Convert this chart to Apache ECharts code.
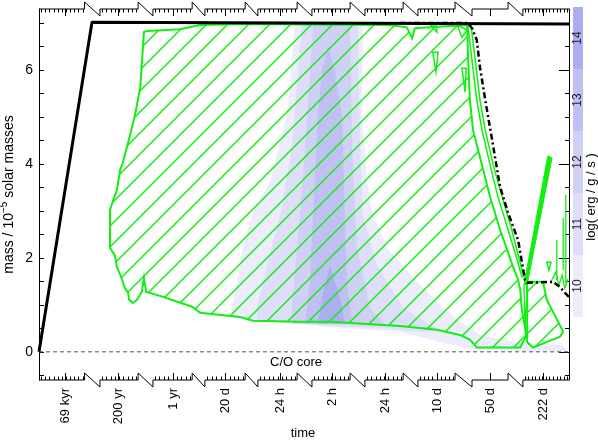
<!DOCTYPE html>
<html>
<head>
<meta charset="utf-8">
<script src="https://cdn.jsdelivr.net/npm/echarts@6/dist/echarts.min.js"></script>
<style>
  html, body { margin: 0; padding: 0; background: #fff; }
  #chart { width: 598px; height: 441px; }
</style>
</head>
<body>
<div id="chart"></div>
<script>
// x runs 0..10 across the broken time axis, one unit per segment (+ break)
const segStart = [0, 1.15, 2.15, 3.13, 4.13, 5.15, 6.15, 7.15, 8.17, 9.13];
const segEnd = [0.86, 1.87, 2.89, 3.89, 4.87, 5.87, 6.87, 7.85, 8.85, 10];
const minorCount = [11, 9, 9, 9, 9, 9, 9, 9, 0, 13];
const labelPos = [0.49, 1.49, 2.53, 3.51, 4.55, 5.53, 6.53, 7.51, 8.51, 9.51];
const timeLabels = ['69 kyr', '200 yr', '1 yr', '20 d', '24 h', '2 h', '24 h', '10 d', '50 d', '222 d'];

const yMin = -0.6;
const yMax = 7.3;
const massMinorTicks = [-0.5, 0, 0.5, 1, 1.5, 2, 2.5, 3, 3.5, 4, 4.5, 5, 5.5, 6, 6.5, 7];
const massMajorTicks = [0, 2, 4, 6];

// colour bar: log(erg/g/s)
const cbLevels = ['10', '11', '12', '13', '14'];
const cbColors = ['#ececfc', '#dedefa', '#d0d0f7', '#c0c0f5', '#adadf2'];

// total mass and the dash-dot boundary
const totalMass = [[0, 0], [1.0, 7.02], [10, 6.98]];
const dashBoundary = [[6.81, 7.0], [8.09, 7.0], [8.17, 6.89], [8.26, 6.64], [8.32, 6.06], [8.42, 5.36],
  [8.55, 4.51], [8.70, 3.51], [8.85, 2.96], [9.04, 2.38], [9.17, 1.53], [9.21, 1.47], [9.70, 1.49],
  [9.83, 1.38], [9.92, 1.26], [10, 1.17]];
const coreLine = [[0, 0], [10, 0]];

// energy generation contours, lightest to darkest
const shade10 = [[4.83, 6.98], [6.11, 6.98], [6.09, 5.04], [6.19, 3.62], [6.30, 2.91], [6.57, 2.21], [7.13, 1.49],
  [7.62, 0.94], [7.94, 0.64], [8.32, 0.36], [9.08, 0.19], [9.83, 0.15], [9.96, 0.06], [9.96, 0.02], [9.08, 0.02],
  [8.13, 0.06], [7.38, 0.26], [6.81, 0.43], [5.49, 0.53], [4.55, 0.62], [3.79, 0.72], [3.64, 0.72], [3.64, 0.94],
  [3.74, 1.49], [3.85, 2.21], [4.02, 2.91], [4.36, 3.62], [4.68, 5.04]];
const shade11 = [[4.96, 6.98], [6.02, 6.98], [6.06, 4.34], [6.11, 2.91], [6.38, 1.85], [6.87, 0.94], [7.28, 0.64],
  [7.57, 0.43], [7.19, 0.43], [6.43, 0.51], [5.49, 0.55], [4.55, 0.64], [4.11, 0.68], [4.11, 0.94], [4.30, 1.85],
  [4.55, 2.91], [4.77, 4.34]];
const shade12 = [[5.17, 6.98], [5.87, 6.98], [5.91, 4.34], [6.0, 2.21], [6.25, 0.94], [6.53, 0.58], [4.77, 0.60],
  [4.77, 0.94], [4.87, 2.21], [5.02, 4.34]];
const shade13 = [[5.45, 6.53], [5.58, 6.0], [5.72, 5.04], [5.77, 2.91], [5.81, 1.49], [5.91, 0.60], [5.02, 0.60],
  [5.11, 1.49], [5.17, 2.91], [5.26, 5.04], [5.34, 6.0]];
const shade14 = [[5.49, 1.85], [5.68, 1.15], [5.77, 0.60], [5.26, 0.60], [5.34, 1.15]];
const shadePolys = [shade10, shade11, shade12, shade13, shade14];

// convective zones (hatched)
const convMain = [[1.98, 6.81], [2.04, 6.83], [2.66, 6.87], [3.04, 6.96], [3.79, 6.98], [6.62, 6.96], [6.94, 6.91],
  [7.04, 6.68], [7.09, 6.89], [8.08, 6.96], [8.09, 6.43], [8.13, 5.36], [8.19, 4.72], [8.51, 3.30], [8.70, 2.60],
  [8.92, 1.89], [9.04, 1.53], [9.08, 1.32], [9.11, 0.89], [9.17, 0.53], [9.19, 0.32], [9.13, 0.21], [9.08, 0.09],
  [8.26, 0.09], [8.13, 0.26], [7.94, 0.36], [7.51, 0.47], [6.81, 0.55], [5.49, 0.64], [4.92, 0.64], [4.04, 0.66],
  [3.79, 0.74], [3.04, 0.83], [2.89, 0.96], [2.34, 1.17], [2.02, 1.28], [1.98, 1.57], [1.94, 1.28], [1.85, 1.11],
  [1.77, 1.04], [1.70, 1.11], [1.68, 1.26], [1.62, 1.36], [1.57, 1.53], [1.47, 1.81], [1.43, 2.06], [1.34, 2.21],
  [1.34, 3.02], [1.40, 3.23], [1.47, 3.45], [1.53, 3.87], [1.58, 4.02], [1.72, 4.62], [1.81, 5.04], [1.91, 5.62]];
const convRight = [[9.21, 1.49], [9.51, 1.49], [9.58, 1.11], [9.89, 0.43], [9.83, 0.32], [9.32, 0.09], [9.21, 0.21]];
const hatchPolys = [convMain, convRight];

// thin convective shells and small features (outline only)
const shellLoop = [[8.09, 6.96], [8.17, 6.21], [8.26, 5.36], [8.36, 4.72], [8.51, 3.98], [8.66, 3.30], [8.85, 2.60],
  [9.04, 1.89], [9.11, 1.60], [9.15, 1.60], [9.08, 1.89], [8.92, 2.60], [8.74, 3.30], [8.57, 3.98], [8.42, 4.72],
  [8.32, 5.36], [8.23, 6.21], [8.15, 6.96]];
const blip1 = [[7.43, 6.38], [7.53, 6.38], [7.49, 5.96]];
const blip2 = [[7.98, 6.04], [8.06, 6.04], [8.04, 5.53]];
const blip3 = [[7.38, 6.96], [7.51, 6.81], [7.49, 6.96]];
const blip4 = [[7.89, 6.96], [7.98, 6.70], [8.08, 6.85]];
const blip5 = [[9.58, 1.91], [9.62, 1.74], [9.66, 1.91]];
const loopPolys = [shellLoop, blip1, blip2, blip3, blip4, blip5];
const wedge = [[9.15, 1.43], [9.60, 4.17], [9.68, 4.13], [9.21, 1.43]];
const spike1 = [[9.94, 3.34], [9.94, 1.47]];
const spike2 = [[9.89, 2.85], [9.89, 1.74]];
const spike3 = [[9.77, 2.38], [9.77, 1.53]];
const spike4 = [[9.15, 1.43], [9.17, 0.47], [9.21, 1.43]];
const spike5 = [[9.66, 1.49], [9.75, 1.70], [9.81, 1.42], [9.87, 1.64], [9.92, 1.36], [9.98, 1.55]];
const spikeLines = [spike1, spike2, spike3, spike4, spike5];

const green = '#11ee11';
const font = 'Liberation Sans, DejaVu Sans, sans-serif';

// diagonal hatch tile
const hatch = document.createElement('canvas');
hatch.width = 21;
hatch.height = 21;
const hctx = hatch.getContext('2d');
hctx.strokeStyle = green;
hctx.lineWidth = 1.5;
[-21, 0, 21].forEach((k) => {
  hctx.beginPath();
  hctx.moveTo(-3, 24 + k);
  hctx.lineTo(24, -3 + k);
  hctx.stroke();
});

function polySeries(name, polys, styleFor, z) {
  return {
    name,
    type: 'custom',
    z,
    silent: true,
    data: polys.map((p) => p[0]),
    renderItem: (params, api) => ({
      type: 'polygon',
      shape: { points: polys[params.dataIndex].map((p) => api.coord(p)) },
      style: styleFor(params.dataIndex),
    }),
  };
}

function lineSeries(name, polys, styleFor, z) {
  return {
    name,
    type: 'custom',
    z,
    silent: true,
    data: polys.map((p) => p[0]),
    renderItem: (params, api) => ({
      type: 'polyline',
      shape: { points: polys[params.dataIndex].map((p) => api.coord(p)) },
      style: styleFor(params.dataIndex),
    }),
  };
}

// broken time axes (bottom and top) with zig-zag breaks
function renderFrame(params, api) {
  const yb = api.coord([0, yMin])[1];
  const yt = api.coord([0, yMax])[1];
  const kids = [];
  const seg = (pts) => kids.push({ type: 'polyline', shape: { points: pts }, style: { stroke: '#000', lineWidth: 1, fill: 'none' } });
  segStart.forEach((s, i) => {
    const x0 = api.coord([s, 0])[0];
    const x1 = api.coord([segEnd[i], 0])[0];
    seg([[x0, yb], [x1, yb]]);
    seg([[x0, yt], [x1, yt]]);
    if (i < segStart.length - 1) {
      const x2 = api.coord([segStart[i + 1], 0])[0];
      seg([[x1, yb], [x1, yb - 7], [x2, yb + 7], [x2, yb]]);
      seg([[x1, yt], [x1, yt - 7], [x2, yt + 7], [x2, yt]]);
    }
    const n = minorCount[i];
    for (let k = 0; k < n; k++) {
      const xt = Math.round(api.coord([s + (segEnd[i] - s) * (k + 0.5) / n, 0])[0]) + 0.5;
      seg([[xt, yb], [xt, yb - 3.5]]);
      seg([[xt, yt], [xt, yt + 3.5]]);
    }
    const xm = Math.round(api.coord([labelPos[i], 0])[0]) + 0.5;
    seg([[xm, yb], [xm, yb - 7]]);
    seg([[xm, yt], [xm, yt + 7]]);
  });
  return { type: 'group', children: kids };
}

const chart = echarts.init(document.getElementById('chart'));

chart.setOption({
  animation: false,
  backgroundColor: '#fff',
  grid: [
    { left: 39, right: 29, top: 9, bottom: 61, outerBoundsMode: 'none' },
    { left: 573, top: 7, width: 10, height: 310, outerBoundsMode: 'none' },
  ],
  xAxis: [
    {
      type: 'value',
      gridIndex: 0,
      min: 0,
      max: 10,
      axisLine: { show: false },
      axisTick: { show: false },
      splitLine: { show: false },
      axisLabel: {
        customValues: labelPos,
        rotate: 90,
        margin: 8,
        fontSize: 13,
        fontFamily: font,
        color: '#000',
        formatter: (v) => timeLabels[labelPos.findIndex((p) => Math.abs(p - v) < 1e-6)] || '',
      },
    },
    { type: 'value', gridIndex: 1, min: 0, max: 1, show: false },
  ],
  yAxis: [
    {
      type: 'value',
      gridIndex: 0,
      min: yMin,
      max: yMax,
      name: 'mass / 10{sup|−5} solar masses',
      nameLocation: 'middle',
      nameGap: 20,
      nameMoveOverlap: false,
      nameTextStyle: {
        fontSize: 14,
        fontFamily: font,
        color: '#000',
        rich: { sup: { fontSize: 10, fontFamily: font, color: '#000', padding: [0, 0, 10, 0] } },
      },
      axisLine: { show: true, lineStyle: { color: '#000', width: 1 } },
      axisTick: { inside: true, length: 5, customValues: massMinorTicks, lineStyle: { color: '#000' } },
      axisLabel: { customValues: massMajorTicks, fontSize: 14, fontFamily: font, color: '#000', margin: 6 },
      splitLine: { show: false },
    },
    {
      type: 'value',
      gridIndex: 0,
      min: yMin,
      max: yMax,
      axisLine: { show: false },
      axisTick: { inside: true, length: 10, customValues: massMajorTicks, lineStyle: { color: '#000' } },
      axisLabel: { show: false },
      splitLine: { show: false },
    },
    {
      type: 'value',
      gridIndex: 0,
      position: 'right',
      min: yMin,
      max: yMax,
      axisLine: { show: true, lineStyle: { color: '#000', width: 1 } },
      axisTick: { inside: true, length: 4, customValues: massMinorTicks, lineStyle: { color: '#000' } },
      axisLabel: { show: false },
      splitLine: { show: false },
    },
    {
      type: 'value',
      gridIndex: 0,
      position: 'right',
      min: yMin,
      max: yMax,
      axisLine: { show: false },
      axisTick: { inside: true, length: 7, customValues: massMajorTicks, lineStyle: { color: '#000' } },
      axisLabel: { show: false },
      splitLine: { show: false },
    },
    { type: 'category', gridIndex: 1, data: cbLevels, show: false },
  ],
  graphic: [
    {
      type: 'text',
      x: 303,
      y: 433,
      style: { text: 'time', fontSize: 13, fontFamily: font, fill: '#000', align: 'center', verticalAlign: 'middle' },
    },
    {
      type: 'text',
      x: 591,
      y: 197,
      rotation: Math.PI / 2,
      style: { text: 'log( erg / g / s )', fontSize: 13, fontFamily: font, fill: '#000', align: 'center', verticalAlign: 'middle' },
    },
  ],
  series: [
    polySeries('energy', shadePolys, (i) => ({ fill: cbColors[i] }), 1),
    polySeries('convection', hatchPolys, () => ({ fill: { image: hatch, repeat: 'repeat' }, stroke: green, lineWidth: 2 }), 2),
    polySeries('shells', loopPolys, () => ({ fill: 'none', stroke: green, lineWidth: 1.5 }), 3),
    polySeries('wedge', [wedge], () => ({ fill: green, stroke: green, lineWidth: 1 }), 3),
    lineSeries('spikes', spikeLines, () => ({ fill: 'none', stroke: green, lineWidth: 1.3 }), 3),
    {
      name: 'core',
      type: 'line',
      data: coreLine,
      showSymbol: false,
      z: 4,
      lineStyle: { color: '#555', width: 1, type: [4, 3] },
      markPoint: {
        symbol: 'circle',
        symbolSize: 0,
        label: { show: true, position: 'inside', formatter: 'C/O core', fontSize: 13, fontFamily: font, color: '#000' },
        data: [{ coord: [4.85, -0.23] }],
      },
    },
    {
      name: 'boundary',
      type: 'line',
      data: dashBoundary,
      showSymbol: false,
      z: 5,
      lineStyle: { color: '#000', width: 2.5, type: [6, 3, 2, 3] },
    },
    {
      name: 'total',
      type: 'line',
      data: totalMass,
      showSymbol: false,
      z: 6,
      lineStyle: { color: '#000', width: 3 },
    },
    {
      name: 'frame',
      type: 'custom',
      z: 7,
      clip: false,
      silent: true,
      data: [[0, 0]],
      renderItem: renderFrame,
    },
    {
      name: 'colorbar',
      type: 'bar',
      xAxisIndex: 1,
      yAxisIndex: 4,
      data: cbLevels.map(() => 1),
      barWidth: '100%',
      silent: true,
      itemStyle: { color: (p) => cbColors[p.dataIndex] },
      label: {
        show: true,
        position: 'inside',
        rotate: 90,
        formatter: (p) => p.name,
        fontSize: 12,
        fontFamily: font,
        color: '#222',
      },
    },
  ],
});
</script>
</body>
</html>
